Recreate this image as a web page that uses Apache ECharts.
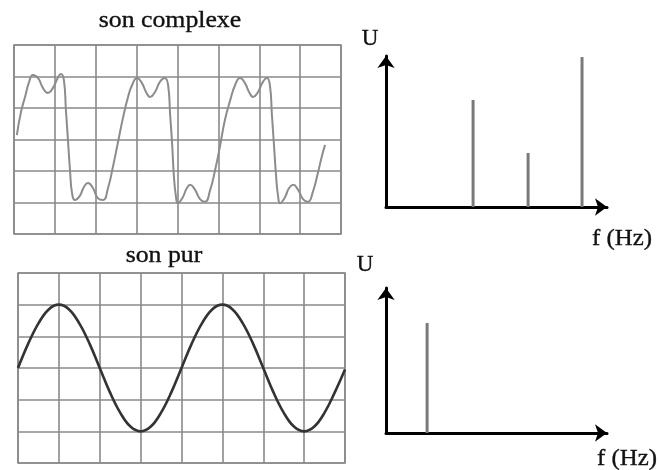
<!DOCTYPE html>
<html>
<head>
<meta charset="utf-8">
<script src="https://cdn.jsdelivr.net/npm/echarts@6/dist/echarts.min.js"></script>
<style>
  html, body { margin: 0; padding: 0; background: #fff; }
  #chart { width: 659px; height: 470px; }
</style>
</head>
<body>
<div id="chart"></div>
<script>
// Oscilloscope trace of the complex sound: time in divisions, voltage in divisions
const complexT = [0.07, 0.17, 0.27, 0.37, 0.46, 0.59, 0.71, 0.83, 0.95, 1.08, 1.15, 1.22, 1.27, 1.32, 1.37, 1.42, 1.49,
  1.61, 1.71, 1.81, 1.93, 2.05, 2.18, 2.30, 2.42, 2.54, 2.67, 2.79, 2.89, 3.01, 3.13, 3.23, 3.33, 3.45, 3.57, 3.69,
  3.77, 3.82, 3.87, 3.91, 3.96, 4.01, 4.13, 4.23, 4.31, 4.43, 4.55, 4.67, 4.80, 4.92, 5.04, 5.16, 5.29, 5.41, 5.53,
  5.65, 5.75, 5.85, 5.97, 6.09, 6.19, 6.26, 6.31, 6.36, 6.41, 6.46, 6.51, 6.63, 6.73, 6.83, 6.95, 7.07, 7.19, 7.31,
  7.44, 7.54, 7.61];
const complexU = [0.14, 0.87, 1.35, 1.83, 2.05, 1.95, 1.63, 1.48, 1.63, 1.98, 2.08, 1.89, 0.94, -0.02, -0.97, -1.70, -1.92,
  -1.79, -1.51, -1.38, -1.54, -1.86, -1.92, -1.54, -0.87, -0.11, 0.71, 1.35, 1.73, 1.95, 1.79, 1.51, 1.35, 1.51, 1.83, 1.95,
  1.73, 0.78, -0.17, -1.13, -1.79, -2.02, -1.83, -1.54, -1.44, -1.60, -1.89, -1.98, -1.60, -0.97, -0.21, 0.62, 1.25, 1.73, 1.95,
  1.79, 1.51, 1.35, 1.51, 1.83, 1.95, 1.73, 0.78, -0.17, -1.13, -1.79, -2.02, -1.83, -1.54, -1.44, -1.60, -1.89, -1.98, -1.67,
  -1.03, -0.49, -0.17];

// Oscilloscope trace of the pure sound, read every quarter division
const pureT = [0, 0.25, 0.5, 0.75, 1, 1.25, 1.5, 1.75, 2, 2.25, 2.5, 2.75, 3, 3.25, 3.5, 3.75, 4,
  4.25, 4.5, 4.75, 5, 5.25, 5.5, 5.75, 6, 6.25, 6.5, 6.75, 7, 7.25, 7.5, 7.75, 8];
const pureU = [0, 0.77, 1.41, 1.85, 2, 1.85, 1.41, 0.77, 0, -0.77, -1.41, -1.85, -2, -1.85, -1.41, -0.77, 0,
  0.77, 1.41, 1.85, 2, 1.85, 1.41, 0.77, 0, -0.77, -1.41, -1.85, -2, -1.85, -1.41, -0.77, -0.05];

// Spectra: frequency positions and amplitudes (arbitrary units)
const complexFreq = [394, 643, 887];
const complexAmp = [7.09, 3.58, 9.93];
const pureFreq = [186];
const pureAmp = [7.59];

const titles = ['son complexe', 'son pur'];
const ampLabel = 'U';
const freqLabel = 'f (Hz)';

const gridColor = '#8a8a8a';
const serif = 'Liberation Serif';

function zip(a, b) { return a.map((v, i) => [v, b[i]]); }

function scopeX(gi) {
  return { gridIndex: gi, type: 'value', min: 0, max: 8, interval: 1,
    axisLine: { show: false }, axisTick: { show: false }, axisLabel: { show: false },
    splitLine: { show: true, lineStyle: { color: gridColor, width: 1.6 } } };
}
function scopeY(gi) {
  return { gridIndex: gi, type: 'value', min: -3, max: 3, interval: 1,
    axisLine: { show: false }, axisTick: { show: false }, axisLabel: { show: false },
    splitLine: { show: true, lineStyle: { color: gridColor, width: 1.6 } } };
}
const arrowLine = { show: true, symbol: ['none', 'arrow'], symbolSize: [13, 12],
  lineStyle: { color: '#000', width: 3 } };
function specX(gi) {
  return { gridIndex: gi, type: 'value', min: 0, max: 1000,
    axisLine: arrowLine, axisTick: { show: false }, axisLabel: { show: false }, splitLine: { show: false } };
}
function specY(gi) {
  return { gridIndex: gi, type: 'value', min: 0, max: 10,
    axisLine: arrowLine, axisTick: { show: false }, axisLabel: { show: false }, splitLine: { show: false } };
}

function label(text, x, y, size, sx) {
  return { type: 'text', x: x, y: y, scaleX: sx, z: 10,
    style: { text: text, fontFamily: serif, fontSize: size, fill: '#111',
      align: 'center', verticalAlign: 'middle', stroke: '#111', lineWidth: 0.35 } };
}

const chart = echarts.init(document.getElementById('chart'), null, { renderer: 'canvas' });
chart.setOption({
  backgroundColor: '#fff',
  animation: false,
  grid: [
    { left: 14, top: 45, width: 327, height: 189, show: true, borderColor: gridColor, borderWidth: 1.6 },
    { left: 18, top: 273, width: 327, height: 190, show: true, borderColor: gridColor, borderWidth: 1.6 },
    { left: 386, top: 56, width: 221, height: 151 },
    { left: 386, top: 288, width: 221, height: 145 }
  ],
  xAxis: [scopeX(0), scopeX(1), specX(2), specX(3)],
  yAxis: [scopeY(0), scopeY(1), specY(2), specY(3)],
  series: [
    { type: 'line', xAxisIndex: 0, yAxisIndex: 0, data: zip(complexT, complexU), smooth: 0.5,
      showSymbol: false, lineStyle: { color: '#8c8c8c', width: 2 } },
    { type: 'line', xAxisIndex: 1, yAxisIndex: 1, data: zip(pureT, pureU), smooth: 0.4,
      showSymbol: false, lineStyle: { color: '#333', width: 2.6 } },
    { type: 'bar', xAxisIndex: 2, yAxisIndex: 2, data: zip(complexFreq, complexAmp), barWidth: 3,
      itemStyle: { color: '#7a7a7a' } },
    { type: 'bar', xAxisIndex: 3, yAxisIndex: 3, data: zip(pureFreq, pureAmp), barWidth: 3,
      itemStyle: { color: '#7a7a7a' } }
  ],
  graphic: [
    label(titles[0], 170, 21, 23, 1.12),
    label(titles[1], 164, 256, 23, 1.12),
    label(ampLabel, 370, 39, 23, 1.0),
    label(ampLabel, 365, 265, 23, 1.0),
    label(freqLabel, 622, 239, 23, 1.08),
    label(freqLabel, 627, 459, 23, 1.08)
  ]
});
</script>
</body>
</html>
